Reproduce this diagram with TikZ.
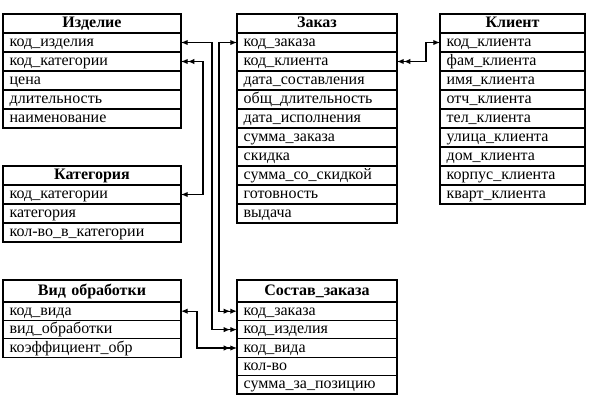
\documentclass[tikz,border=0pt]{standalone}
\usepackage{fontspec}
\setmainfont{Liberation Serif}
\usetikzlibrary{positioning,arrows.meta}
\tikzset{node distance=0pt,
  every node/.style={font=\fontsize{12}{14}\selectfont},
  head/.style={draw, line width=0.9pt, outer sep=0pt, anchor=north west, align=center, font=\fontsize{12}{14}\selectfont\bfseries,
    minimum height=#1, inner ysep=0pt, inner xsep=5pt, text height=8.5pt, text depth=2.5pt},
  head/.default=14.25pt,
  field/.style={draw, line width=0.9pt, outer sep=0pt, align=left, minimum height=#1,
    inner ysep=0pt, inner xsep=5pt, text height=8.5pt, text depth=2.5pt},
  field/.default=14.25pt,
  link/.style={line width=0.8pt},
  >={Latex[length=5pt,width=4pt]}}

\begin{document}
\begin{tikzpicture}[x=0.75pt, y=-0.75pt]
  \useasboundingbox (0,0) rectangle (590,404);

  % Изделие
  \begin{scope}[every node/.append style={text width=123.5pt}]
    \node[head] (izd) at (3,14) {Изделие};
    \node[field] (izd1) [below=of izd] {код\_изделия};
    \node[field] (izd2) [below=of izd1] {код\_категории};
    \node[field] (izd3) [below=of izd2] {цена};
    \node[field] (izd4) [below=of izd3] {длительность};
    \node[field] (izd5) [below=of izd4] {наименование};
  \end{scope}

  % Заказ
  \begin{scope}[every node/.append style={text width=110pt}]
    \node[head] (zak) at (237,14) {Заказ};
    \node[field] (zak1) [below=of zak] {код\_заказа};
    \node[field] (zak2) [below=of zak1] {код\_клиента};
    \node[field] (zak3) [below=of zak2] {дата\_составления};
    \node[field] (zak4) [below=of zak3] {общ\_длительность};
    \node[field] (zak5) [below=of zak4] {дата\_исполнения};
    \node[field] (zak6) [below=of zak5] {сумма\_заказа};
    \node[field] (zak7) [below=of zak6] {скидка};
    \node[field] (zak8) [below=of zak7] {сумма\_со\_скидкой};
    \node[field] (zak9) [below=of zak8] {готовность};
    \node[field] (zak10) [below=of zak9] {выдача};
  \end{scope}

  % Клиент
  \begin{scope}[every node/.append style={text width=98.75pt}]
    \node[head] (kli) at (440,14) {Клиент};
    \node[field] (kli1) [below=of kli] {код\_клиента};
    \node[field] (kli2) [below=of kli1] {фам\_клиента};
    \node[field] (kli3) [below=of kli2] {имя\_клиента};
    \node[field] (kli4) [below=of kli3] {отч\_клиента};
    \node[field] (kli5) [below=of kli4] {тел\_клиента};
    \node[field] (kli6) [below=of kli5] {улица\_клиента};
    \node[field] (kli7) [below=of kli6] {дом\_клиента};
    \node[field] (kli8) [below=of kli7] {корпус\_клиента};
    \node[field] (kli9) [below=of kli8] {кварт\_клиента};
  \end{scope}

  % Категория
  \begin{scope}[every node/.append style={text width=123.5pt}]
    \node[head] (cat) at (3,166) {Категория};
    \node[field] (cat1) [below=of cat] {код\_категории};
    \node[field] (cat2) [below=of cat1] {категория};
    \node[field] (cat3) [below=of cat2] {кол-во\_в\_категории};
  \end{scope}

  % Вид обработки
  \begin{scope}[every node/.append style={text width=123.5pt}]
    \node[head=16.5pt] (vid) at (3,280) {Вид обработки};
    \node[field=13.8pt] (vid1) [below=of vid] {код\_вида};
    \node[field=13.8pt] (vid2) [below=of vid1] {вид\_обработки};
    \node[field=13.8pt] (vid3) [below=of vid2] {коэффициент\_обр};
  \end{scope}

  % Состав_заказа
  \begin{scope}[every node/.append style={text width=110pt}]
    \node[head=16.5pt] (sos) at (237,280) {Состав\_заказа};
    \node[field=13.8pt] (sos1) [below=of sos] {код\_заказа};
    \node[field=13.8pt] (sos2) [below=of sos1] {код\_изделия};
    \node[field=13.8pt] (sos3) [below=of sos2] {код\_вида};
    \node[field=13.8pt] (sos4) [below=of sos3] {кол-во};
    \node[field=13.8pt] (sos5) [below=of sos4] {сумма\_за\_позицию};
  \end{scope}

  % links
  \coordinate (busV) at (197,0);
  \coordinate (busC) at (203,0);
  \coordinate (busI) at (212,0);
  \coordinate (busZ) at (219,0);
  \coordinate (busK) at (426,0);

  \draw[link, <->>] (izd1.east) -- (izd1.east -| busI) -- (sos2.west -| busI) -- (sos2.west);
  \draw[link, <<->] (izd2.east) -- (izd2.east -| busC) -- (cat1.east -| busC) -- (cat1.east);
  \draw[link, <->>] (zak1.west) -- (zak1.west -| busZ) -- (sos1.west -| busZ) -- (sos1.west);
  \draw[link, <<->] (zak2.east) -- (zak2.east -| busK) -- (kli1.west -| busK) -- (kli1.west);
  \draw[link, <->>] (vid1.east) -- (vid1.east -| busV) -- (sos3.west -| busV) -- (sos3.west);
\end{tikzpicture}
\end{document}
